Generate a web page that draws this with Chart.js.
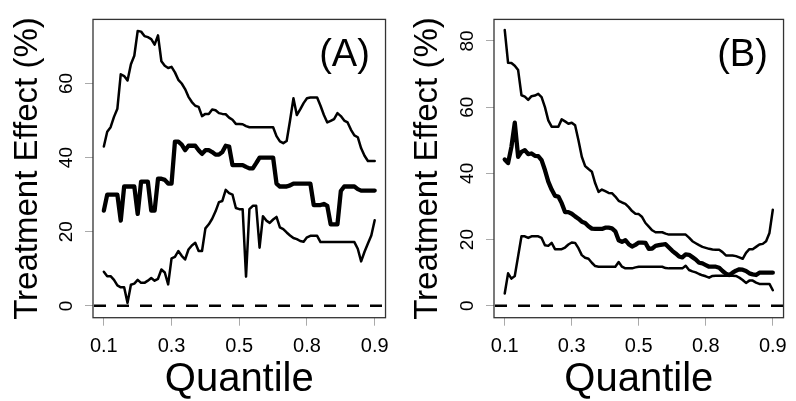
<!DOCTYPE html>
<html>
<head>
<meta charset="utf-8">
<script src="https://cdn.jsdelivr.net/npm/chart.js@4/dist/chart.umd.min.js"></script>
<style>
  html, body { margin: 0; padding: 0; background: #fff; }
  #wrap { position: relative; width: 796px; height: 401px; }
  canvas { position: absolute; top: 0; }
</style>
</head>
<body>
<div id="wrap">
  <canvas id="panelA" width="398" height="401" style="left:0"></canvas>
  <canvas id="panelB" width="396" height="401" style="left:400px"></canvas>
</div>
<script>
'use strict';
// quantile grid shared by both panels
var quantiles = [
  0.10, 0.11, 0.12, 0.13, 0.14, 0.15, 0.16, 0.17, 0.18, 0.19,
  0.20, 0.21, 0.22, 0.23, 0.24, 0.25, 0.26, 0.27, 0.28, 0.29,
  0.30, 0.31, 0.32, 0.33, 0.34, 0.35, 0.36, 0.37, 0.38, 0.39,
  0.40, 0.41, 0.42, 0.43, 0.44, 0.45, 0.46, 0.47, 0.48, 0.49,
  0.50, 0.51, 0.52, 0.53, 0.54, 0.55, 0.56, 0.57, 0.58, 0.59,
  0.60, 0.61, 0.62, 0.63, 0.64, 0.65, 0.66, 0.67, 0.68, 0.69,
  0.70, 0.71, 0.72, 0.73, 0.74, 0.75, 0.76, 0.77, 0.78, 0.79,
  0.80, 0.81, 0.82, 0.83, 0.84, 0.85, 0.86, 0.87, 0.88, 0.89, 0.90
];
var xTickPos = [0.1, 0.3, 0.5, 0.7, 0.9];
var xTickLabels = ['0.1', '0.3', '0.5', '0.8', '0.9'];

// panel A
var upperA = [
  43, 47, 48.2, 51, 53.2, 62.5, 62, 60.8, 65.2, 67.5,
  74.2, 74, 72.8, 72.5, 72, 70.5, 73, 66, 64.8, 64.2,
  64.5, 63, 61, 60, 58.5, 56.4, 55, 54, 53.7, 51.2,
  51.8, 51.8, 53, 52.8, 52, 51.8, 51.7, 50.8, 50.2, 49.1,
  49.1, 49, 48.5, 48.2, 48.2, 48.2, 48.2, 48.2, 48.2, 48.2,
  48.2, 45.8, 44.4, 43.9, 44.5, 50, 56, 51.5, 53, 54.7,
  56, 56.2, 56.2, 56.2, 54, 51.5, 49.5, 49.9, 50.4, 52,
  51.2, 50, 49.5, 47.5, 46, 45.5, 42.5, 40.5, 39.1, 39.1, 39.1
];
var medianA = [
  25.7, 30, 30, 30, 30, 23, 32.2, 32.2, 32.2, 32.2,
  24.8, 33.5, 33.5, 33.5, 25.7, 25.7, 34.3, 34.3, 34, 33,
  33, 44.3, 44.3, 43.5, 42, 43.2, 43.2, 43.2, 42, 41,
  42, 42, 41.5, 40.8, 40.8, 41.5, 43.2, 43, 38, 38,
  38, 38, 37.5, 37.1, 37.1, 38.5, 40, 40, 40, 40,
  40, 33, 32.2, 32.2, 32.2, 32.5, 33, 33, 33, 33,
  33, 33, 27.2, 27.2, 27.2, 27.5, 27, 22, 22, 22,
  31, 32.2, 32.2, 32.2, 32.2, 31.5, 31.1, 31.1, 31.1, 31.1, 31.1
];
var lowerA = [
  9.2, 8, 8, 7, 5.5, 5, 5, 0.8, 5.7, 6,
  7, 6.2, 6.2, 6.8, 7.5, 6.8, 7.3, 9.8, 9, 5.8,
  12.8, 13.2, 14.8, 13.5, 12.5, 15.2, 16.3, 17, 14.8, 14.8,
  20.9, 22, 23.5, 25.5, 28, 28.3, 31.3, 30.4, 30, 26.4,
  26.1, 26.1, 7.9, 26.1, 27, 27, 15.7, 24.2, 23, 22.4,
  23.3, 24, 21.2, 20.7, 19.8, 19, 18.3, 18, 17.5, 17.3,
  18.5, 18.9, 18.9, 18.9, 17.2, 17.2, 17.2, 17.2, 17.2, 17.2,
  17.2, 17.2, 17.2, 17.2, 17.2, 15.4, 12, 14.6, 16.8, 19, 23.1
];
var yTicksA = [0, 20, 40, 60];

// panel B
var upperB = [
  83.3, 73.4, 73.3, 72.5, 71.2, 63.6, 63.2, 62.2, 63.3, 63.5,
  64, 63, 60, 56, 54.1, 54.1, 54.1, 56.3, 55.7, 55,
  55.3, 54.5, 50, 45, 42.2, 41.3, 40.5, 37, 34.4, 35.1,
  34.6, 34.1, 34, 33, 31.7, 31.2, 30.8, 29.8, 28.6, 27.8,
  27.7, 26.8, 25, 23.9, 22.8, 22.2, 22.2, 22.2, 21.8, 21.5,
  21.5, 21.5, 21.5, 21.5, 21.5, 20.6, 19.5, 18.9, 18.3, 17.8,
  17.5, 17.2, 17, 16.9, 16.9, 16.2, 15.2, 15.2, 15.2, 15,
  14.6, 14.2, 16, 17.1, 17.1, 17.8, 18.5, 18.7, 19.5, 22, 29
];
var medianB = [
  44.2, 43.1, 48, 55.3, 45, 46.5, 47, 45.8, 46, 45.3,
  45.2, 44, 41, 37.5, 35.1, 33.2, 33, 31, 28.3, 28.3,
  27.8, 27, 26.3, 25.4, 25, 24, 23.3, 23.2, 23.2, 23.2,
  23.6, 23.6, 23.4, 22.5, 19.8, 19.3, 19.8, 18.6, 17.9, 18.4,
  19.1, 19.1, 19, 17.2, 17.3, 18.1, 18.3, 18.5, 18.6, 17.6,
  16.6, 15.8, 14.9, 14.6, 15.5, 15.4, 14.7, 14, 13, 12.8,
  12.3, 11.8, 11.8, 11.8, 11.5, 10.5, 9.7, 9.3, 10, 10.6,
  11, 10.9, 10.5, 9.8, 9.5, 9.3, 10, 10, 10, 10, 10
];
var lowerB = [
  3.7, 9.8, 8.2, 9, 15, 21, 21, 20.5, 21, 21,
  21, 20.5, 18.3, 18.1, 19, 17.1, 17.1, 17.1, 17.6, 18.5,
  19.1, 19, 17.4, 15.3, 14.5, 14.2, 13, 12, 11.8, 11.8,
  11.8, 11.8, 11.8, 11.8, 13.2, 11.8, 11.3, 11.3, 11.3, 11.6,
  11.8, 11.8, 11.8, 11.8, 11.8, 11.8, 11.8, 11.8, 11.4, 11.3,
  11.3, 11.3, 11.3, 11.3, 12.1, 10.8, 10.4, 10.1, 9.6, 9.2,
  8.9, 8.5, 9, 9.1, 9.1, 9.1, 9.1, 9.1, 9.1, 9,
  8.5, 7.8, 6.9, 7.6, 7.6, 7, 6.6, 6.6, 6.6, 6.6, 4.7
];
var yTicksB = [0, 20, 40, 60, 80];

var FONT = "'Liberation Sans', Arial, Helvetica, sans-serif";

// box, dashed zero reference line and the panel letter
var framePlugin = {
    id: 'frame',
    beforeDatasetsDraw: function (chart) {
        var ctx = chart.ctx;
        var a = chart.chartArea;
        var y0 = chart.scales.y.getPixelForValue(0);
        ctx.save();
        ctx.beginPath();
        ctx.rect(a.left, a.top, a.right - a.left, a.bottom - a.top);
        ctx.clip();
        ctx.setLineDash([12, 11]);
        ctx.lineWidth = 2.5;
        ctx.strokeStyle = '#000';
        ctx.beginPath();
        ctx.moveTo(a.left + 1, y0);
        ctx.lineTo(a.right, y0);
        ctx.stroke();
        ctx.restore();
    },
    afterDraw: function (chart, args, opts) {
        var ctx = chart.ctx;
        var a = chart.chartArea;
        ctx.save();
        ctx.lineWidth = 1.3;
        ctx.strokeStyle = '#333';
        ctx.strokeRect(a.left, a.top, a.right - a.left, a.bottom - a.top);
        ctx.fillStyle = '#000';
        ctx.font = '38px ' + FONT;
        ctx.textAlign = 'center';
        ctx.textBaseline = 'middle';
        ctx.fillText(opts.letter, a.right - 41, a.top + 36);
        ctx.restore();
    }
};

function series(values, width) {
    return {
        data: values,
        borderColor: '#000',
        borderWidth: width,
        pointRadius: 0,
        tension: 0,
        fill: false,
        borderJoinStyle: 'round',
        borderCapStyle: 'round'
    };
}

function makePanel(id, upper, median, lower, yMin, yMax, yTicks, letter, yWidth, padRight) {
    var ctx = document.getElementById(id).getContext('2d');
    return new Chart(ctx, {
        type: 'line',
        data: {
            labels: quantiles,
            datasets: [series(upper, 2.5), series(median, 4.3), series(lower, 2.5)]
        },
        plugins: [framePlugin],
        options: {
            responsive: false,
            animation: false,
            events: [],
            layout: { padding: { top: 8.3, right: padRight, left: 0, bottom: 0 } },
            parsing: { xAxisKey: 'x', yAxisKey: 'y' },
            plugins: {
                legend: { display: false },
                tooltip: { enabled: false },
                frame: { letter: letter }
            },
            scales: {
                x: {
                    type: 'linear',
                    min: 0.068,
                    max: 0.932,
                    afterBuildTicks: function (s) {
                        s.ticks = xTickPos.map(function (v) { return { value: v }; });
                    },
                    afterFit: function (s) { s.height = 83.3; },
                    ticks: {
                        callback: function (v, i) { return xTickLabels[i]; },
                        font: { family: FONT, size: 20 },
                        color: '#000',
                        padding: 9,
                        autoSkip: false,
                        maxRotation: 0
                    },
                    grid: { drawOnChartArea: false, drawTicks: true, tickLength: 8, color: '#aaa' },
                    border: { display: false },
                    title: {
                        display: true,
                        text: 'Quantile',
                        color: '#000',
                        font: { family: FONT, size: 40, lineHeight: 1 },
                        padding: { top: 0, bottom: 1.5 }
                    }
                },
                y: {
                    min: yMin,
                    max: yMax,
                    afterBuildTicks: function (s) {
                        s.ticks = yTicks.map(function (v) { return { value: v }; });
                    },
                    afterFit: function (s) { s.width = yWidth; },
                    ticks: {
                        font: { family: FONT, size: 19 },
                        color: '#000',
                        minRotation: 90,
                        maxRotation: 90,
                        crossAlign: 'center',
                        padding: 8
                    },
                    grid: { drawOnChartArea: false, drawTicks: true, tickLength: 8, color: '#aaa' },
                    border: { display: false },
                    title: {
                        display: true,
                        text: 'Treatment Effect (%)',
                        color: '#000',
                        font: { family: FONT, size: 33, lineHeight: 1 },
                        padding: { top: 11, bottom: 0 }
                    }
                }
            }
        }
    });
}

// line charts need x/y pairs for the linear x scale
function pairs(values) {
    return values.map(function (v, i) { return { x: quantiles[i], y: v }; });
}

makePanel('panelA', pairs(upperA), pairs(medianA), pairs(lowerA), -3.2, 77.3, yTicksA, '(A)', 93, 11);
makePanel('panelB', pairs(upperB), pairs(medianB), pairs(lowerB), -3.6, 86.5, yTicksB, '(B)', 94, 7.7);
</script>
</body>
</html>
